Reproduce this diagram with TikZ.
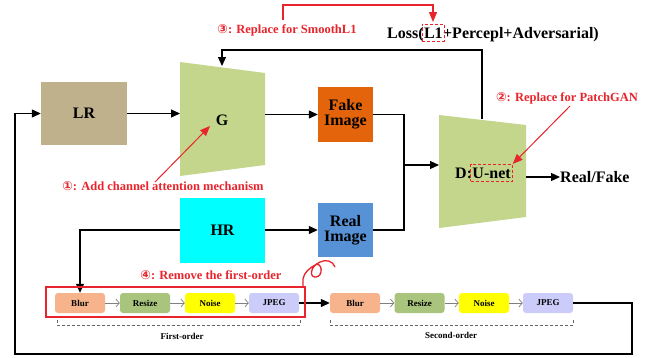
\documentclass[tikz,border=0pt]{standalone}
\usepackage{fontspec}
\setmainfont{Liberation Serif}
\newfontfamily\symfont{DejaVu Sans}
\usetikzlibrary{arrows.meta,fit}

\definecolor{lrcol}{RGB}{192,177,141}
\definecolor{gcol}{RGB}{195,214,140}
\definecolor{fakecol}{RGB}{228,100,12}
\definecolor{realcol}{RGB}{88,146,214}
\definecolor{hrcol}{RGB}{0,255,255}
\definecolor{blurcol}{RGB}{247,180,140}
\definecolor{resizecol}{RGB}{168,196,125}
\definecolor{noisecol}{RGB}{255,255,0}
\definecolor{jpegcol}{RGB}{204,204,250}
\definecolor{annred}{RGB}{232,36,44}

\begin{document}
\begin{tikzpicture}[x=1pt,y=-1pt,
 bigbox/.style={rectangle, inner sep=0pt, font=\fontsize{16}{17}\selectfont\bfseries, align=center},
 smallbox/.style={rectangle, rounded corners=3pt, minimum width=50pt, minimum height=20pt, inner sep=0pt, font=\fontsize{9}{10}\selectfont\bfseries},
 arr/.style={-{Triangle[length=9pt,width=8pt]}, line width=1.2pt, black},
 plain/.style={line width=1.2pt, black},
 garr/.style={-{Straight Barb[length=3.5pt,width=8pt]}, gray, line width=0.7pt},
 ann/.style={font=\fontsize{12.5}{14}\selectfont\bfseries, text=annred, inner sep=0pt},
 rarr/.style={-{Triangle[length=10pt,width=8pt]}, annred, line width=1pt},
 rdash/.style={draw=annred, dash pattern=on 3pt off 2pt, line width=0.7pt},
 bracket/.style={dash pattern=on 3pt off 2pt, gray!80!black, line width=0.6pt},
 lbl/.style={font=\fontsize{16}{17}\selectfont\bfseries, inner sep=0pt},
 small/.style={font=\fontsize{9}{10}\selectfont\bfseries, inner sep=0pt},
]
\useasboundingbox (0,0) rectangle (656,357);
\fill[white] (0,0) rectangle (656,357);

% ---- main blocks
\node[bigbox, fill=lrcol, minimum width=86pt, minimum height=63pt] (LR) at (84,113.5) {LR};
\fill[gcol] (180,62) -- (265,73) -- (265,165) -- (180,176) -- cycle;
\node[lbl] (G) at (222,120) {G};
\coordinate (Gw) at (180,113.5);
\coordinate (Ge) at (265,114.5);
\coordinate (Gn) at (222,66);
\node[bigbox, fill=fakecol, minimum width=55pt, minimum height=55pt] (Fake) at (345.5,114.5) {Fake\\[-2pt]Image};
\node[bigbox, fill=hrcol, minimum width=85pt, minimum height=65pt] (HR) at (222.5,230) {HR};
\node[bigbox, fill=realcol, minimum width=55pt, minimum height=54pt] (Real) at (345.5,230) {Real\\[-2pt]Image};

\fill[gcol] (439,115) -- (526,125) -- (526,217) -- (439,228) -- cycle;
\node[lbl, anchor=base west] (Dlab) at (455,178) {D:};
\node[lbl, anchor=base west] (Unet) at (Dlab.base east) {U-net};
\node[rdash, fit=(Unet), inner xsep=1.5pt, inner ysep=3pt] (Unetbox) {};
\coordinate (Dw) at (439,165);
\coordinate (De) at (526,177);
\coordinate (Dn) at (482,119);
\node[lbl, anchor=west] (RF) at (560,177) {Real/Fake};

% ---- loss text
\node[lbl, anchor=base west] (lossA) at (387,38) {Loss(};
\node[lbl, anchor=base west] (lossL) at (lossA.base east) {L1};
\node[lbl, anchor=base west] (lossB) at (lossL.base east) {+Percepl+Adversarial)};
\node[rdash, fit=(lossL), inner xsep=1.5pt, inner ysep=3pt] (L1box) {};

% ---- connectors
\draw[arr] (LR.east) -- (Gw);
\draw[arr] (Ge) -- (Fake.west |- Ge);
\coordinate (J) at (404,165);
\draw[plain] (Fake.east) -| (J);
\draw[plain] (Real.east) -| (J);
\draw[arr] (J) -- (Dw);
\draw[arr] (De) -- (RF.west);
\draw[arr] (Dn) |- (222,50) -- (Gn);
\draw[arr] (HR.east) -- (Real.west);

% ---- degradation pipeline
\node[smallbox, fill=blurcol] (b1) at (80,303) {Blur};
\node[smallbox, fill=resizecol] (r1) at (145,303) {Resize};
\node[smallbox, fill=noisecol] (n1) at (210,303) {Noise};
\node[smallbox, fill=jpegcol] (j1) at (274,303) {JPEG};
\node[smallbox, fill=blurcol] (b2) at (355,303) {Blur};
\node[smallbox, fill=resizecol] (r2) at (419.5,303) {Resize};
\node[smallbox, fill=noisecol] (n2) at (484,303) {Noise};
\node[smallbox, fill=jpegcol] (j2) at (548,303) {JPEG};
\draw[garr] (b1) -- (r1);
\draw[garr] (r1) -- (n1);
\draw[garr] (n1) -- (j1);
\draw[garr] (b2) -- (r2);
\draw[garr] (r2) -- (n2);
\draw[garr] (n2) -- (j2);
\draw[arr] (j1) -- (b2);
\draw[arr] (HR.west) -| (b1.north);
\draw[arr] (j2.east) -- (632,303) -- (632,354) -- (15,354) |- (LR.west);

% brackets
\draw[bracket] (57,320) -- (57,325) -- (300,325) -- (300,320);
\draw[bracket] (330,320) -- (330,325) -- (573,325) -- (573,320);
\node[small] (fo) at (182,336) {First-order};
\node[small] (so) at (451,335) {Second-order};

% ---- annotations
\node[ann] (a1) at (163,186) {{\symfont ①}: Add channel attention mechanism};
\draw[rarr] (155,182) -- (210,126);
\node[ann] (a2) at (567,98) {{\symfont ②}: Replace for PatchGAN};
\draw[rarr] (570,106) -- (Unetbox.north east);
\node[ann] (a3) at (287,30) {{\symfont ③}: Replace for SmoothL1};
\coordinate (r3a) at (283,20);
\coordinate (r3b) at (433,22);
\draw[rarr, line width=1.2pt] (r3a) |- (433,5) -- (r3b);
\node[ann] (a4) at (211,275) {{\symfont ④}: Remove the first-order};
\draw[annred, line width=1.5pt] (46,287) rectangle (305,317);
\draw[annred, line width=1.3pt] (303,287) -- (303,279) .. controls (304,272) and (310,268) .. (315,265) .. controls (322,261) and (324,276) .. (316,277) .. controls (309,278) and (310,266) .. (320,262) .. controls (326,259) and (333,261) .. (335,267);
\end{tikzpicture}
\end{document}
